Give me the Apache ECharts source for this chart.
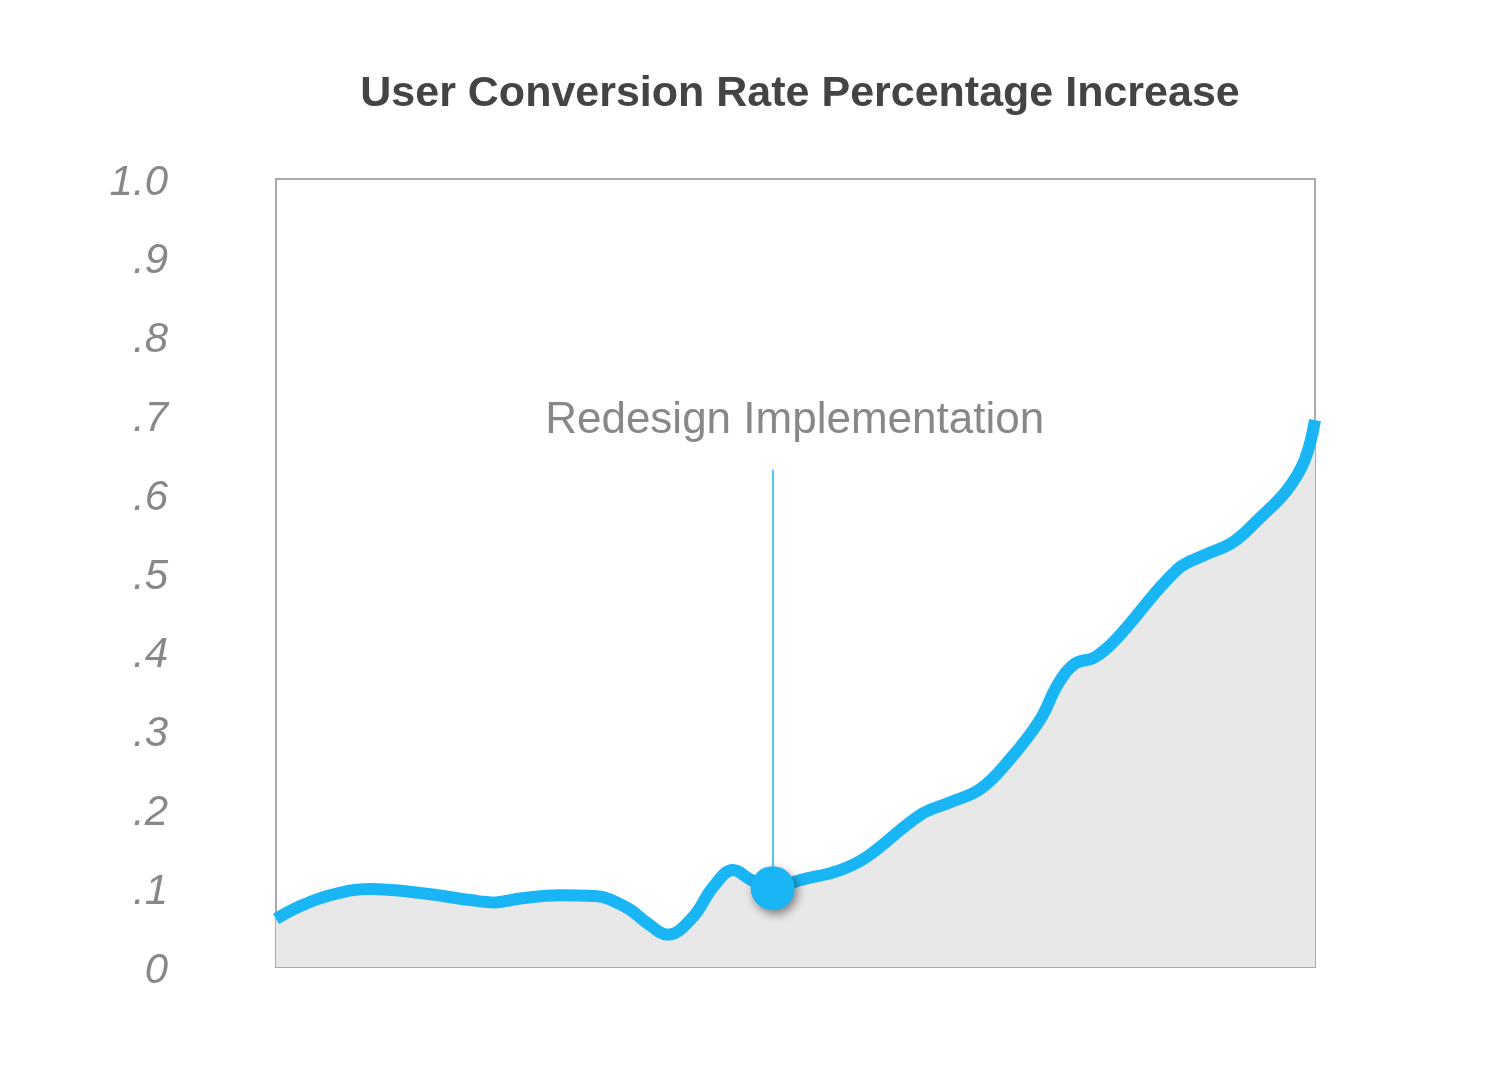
<!DOCTYPE html>
<html>
<head>
<meta charset="utf-8">
<script src="https://cdn.jsdelivr.net/npm/echarts@6/dist/echarts.min.js"></script>
<style>
  html, body { margin: 0; padding: 0; background: #fff; }
  #chart { width: 1496px; height: 1067px; }
</style>
</head>
<body>
<div id="chart"></div>
<script>
// time position along the x axis (0 - 100) and conversion rate
const xPos = [0, 2.3, 5.2, 9.0, 13.9, 18.7, 21.1, 23.5, 27.3, 30.7, 33.8, 35.7, 37.7, 40.1, 42.1, 44.0, 45.8, 47.8, 50.4, 54.3, 56.9, 62.0, 64.9, 67.8, 70.6, 73.5, 75.3, 76.9, 78.8, 80.8, 86.7, 89.4, 92.1, 94.7, 97.3, 99.0, 100];
const rate = [0.061, 0.077, 0.091, 0.099, 0.094, 0.085, 0.082, 0.087, 0.091, 0.090, 0.075, 0.056, 0.041, 0.063, 0.102, 0.123, 0.110, 0.100, 0.110, 0.123, 0.140, 0.193, 0.209, 0.226, 0.263, 0.313, 0.360, 0.385, 0.393, 0.415, 0.504, 0.523, 0.539, 0.570, 0.605, 0.643, 0.694];
const yTicks = ['0', '.1', '.2', '.3', '.4', '.5', '.6', '.7', '.8', '.9', '1.0'];

// redesign moment
const redesignX = 47.8;
const redesignY = 0.100;
const redesignTop = 0.631;
const redesignText = 'Redesign Implementation';

const chart = echarts.init(document.getElementById('chart'));

const option = {
    backgroundColor: '#fff',
    title: {
        text: 'User Conversion Rate Percentage Increase',
        left: 795,
        top: 68,
        textAlign: 'center',
        textStyle: {
            fontFamily: 'Liberation Sans, Arial, sans-serif',
            fontSize: 43,
            fontWeight: 'bold',
            color: '#444'
        }
    },
    grid: {
        left: 276,
        top: 179,
        width: 1039,
        height: 788,
        show: true,
        borderColor: '#aaa',
        borderWidth: 2,
        backgroundColor: 'transparent'
    },
    xAxis: {
        type: 'value',
        min: 0,
        max: 100,
        axisLine: { show: false },
        axisTick: { show: false },
        axisLabel: { show: false },
        splitLine: { show: false }
    },
    yAxis: {
        type: 'value',
        min: 0,
        max: 1,
        interval: 0.1,
        axisLine: { show: false },
        axisTick: { show: false },
        splitLine: { show: false },
        axisLabel: {
            margin: 108,
            formatter: (v) => '{t|' + yTicks[Math.round(v * 10)] + '}',
            rich: {
                t: {
                    fontFamily: 'Liberation Sans, Arial, sans-serif',
                    fontStyle: 'italic',
                    fontSize: 42,
                    color: '#888',
                    padding: [8, 0, 0, 0]
                }
            }
        }
    },
    series: [
        {
            type: 'line',
            data: xPos.map((x, i) => [x, rate[i]]),
            smooth: 0.4,
            symbol: 'none',
            lineStyle: { color: '#19b5f5', width: 12 },
            areaStyle: { color: '#e8e8e8', opacity: 1 },
            z: 2,
            markLine: {
                silent: true,
                symbol: ['none', 'none'],
                lineStyle: { color: '#19b5f5', width: 1.5, type: 'solid' },
                label: {
                    show: true,
                    position: 'end',
                    distance: 27,
                    formatter: redesignText,
                    fontFamily: 'Liberation Sans, Arial, sans-serif',
                    fontSize: 44,
                    color: '#888',
                    padding: [0, 0, 0, 44]
                },
                data: [[
                    { coord: [redesignX, redesignY] },
                    { coord: [redesignX, redesignTop] }
                ]]
            }
        },
        {
            type: 'scatter',
            data: [[redesignX, redesignY]],
            symbolSize: 44,
            itemStyle: {
                color: '#19b5f5',
                opacity: 1,
                shadowColor: 'rgba(0,0,0,0.45)',
                shadowBlur: 10,
                shadowOffsetX: 3,
                shadowOffsetY: 4
            },
            z: 5
        }
    ]
};

chart.setOption(option);
</script>
</body>
</html>
